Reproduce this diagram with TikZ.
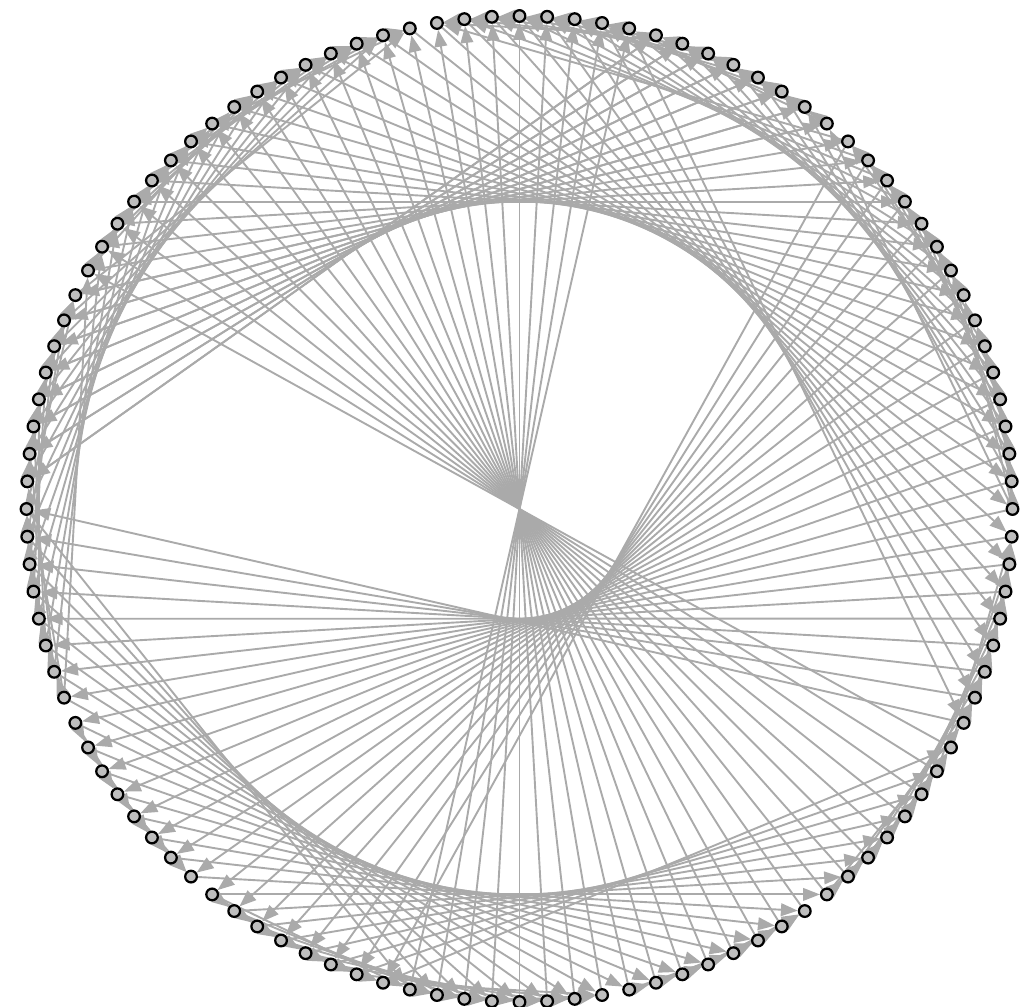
\documentclass[tikz,border=0pt]{standalone}
\definecolor{edgegray}{RGB}{170, 170, 170}
\definecolor{vtxgray}{RGB}{190, 190, 190}
\usepackage{tikz}
\usetikzlibrary{arrows.meta}
\pgfdeclarelayer{edges}
\pgfsetlayers{edges,main}

\begin{document}
\begin{tikzpicture}[x=0.025cm, y=-0.025cm,
    vtx/.style={circle, draw=black, fill=vtxgray, line width=1.6pt, minimum size=8.3pt, inner sep=0pt},
    edge/.style={draw=edgegray, line width=1.35pt, -{Triangle[length=12pt,width=9pt]}}]
    \useasboundingbox (0,0) rectangle (1034,1007);
    % vertices on the circle, 0 at the top, clockwise
    \foreach \k in {0,...,111} {
        \pgfmathsetmacro\ang{\k*3.2142857}
        \node[vtx] (n\k) at ({519.5+493*sin(\ang)}, {509-493*cos(\ang)}) {};
    }
    \begin{pgfonlayer}{edges}
        % long chords, blocks of eight
        \foreach \first/\off in {5/-32, 13/48, 21/48, 29/48, 37/56, 45/56, 53/56,
                                 61/-24, 69/-24, 77/-24, 85/32, 93/32, 101/32, 109/32} {
            \foreach \i in {0,...,7} {
                \pgfmathtruncatemacro\s{mod(\first+\i,112)}
                \pgfmathtruncatemacro\t{mod(\first+\i+\off+112,112)}
                \draw[edge] (n\s) -- (n\t);
            }
        }
        % rim band: cube edges inside each arc
        \foreach \a/\len/\dir/\bmax in {109/32/0/16, 29/24/0/8, 53/24/0/8, 77/32/1/16} {
            \foreach \b in {1,2,4,8,16} {
                \foreach \i in {0,...,31} {
                    \pgfmathtruncatemacro\ok{(mod(floor(\i/\b),2)==0)*(\i+\b<\len)*(\b<=\bmax)}
                    \ifnum\ok=1
                        \pgfmathtruncatemacro\p{mod(\a+\i,112)}
                        \pgfmathtruncatemacro\q{mod(\a+\i+\b,112)}
                        \ifnum\dir=0
                            \draw[edge] (n\q) -- (n\p);
                        \else
                            \draw[edge] (n\p) -- (n\q);
                        \fi
                    \fi
                }
            }
        }
    \end{pgfonlayer}
\end{tikzpicture}
\end{document}
